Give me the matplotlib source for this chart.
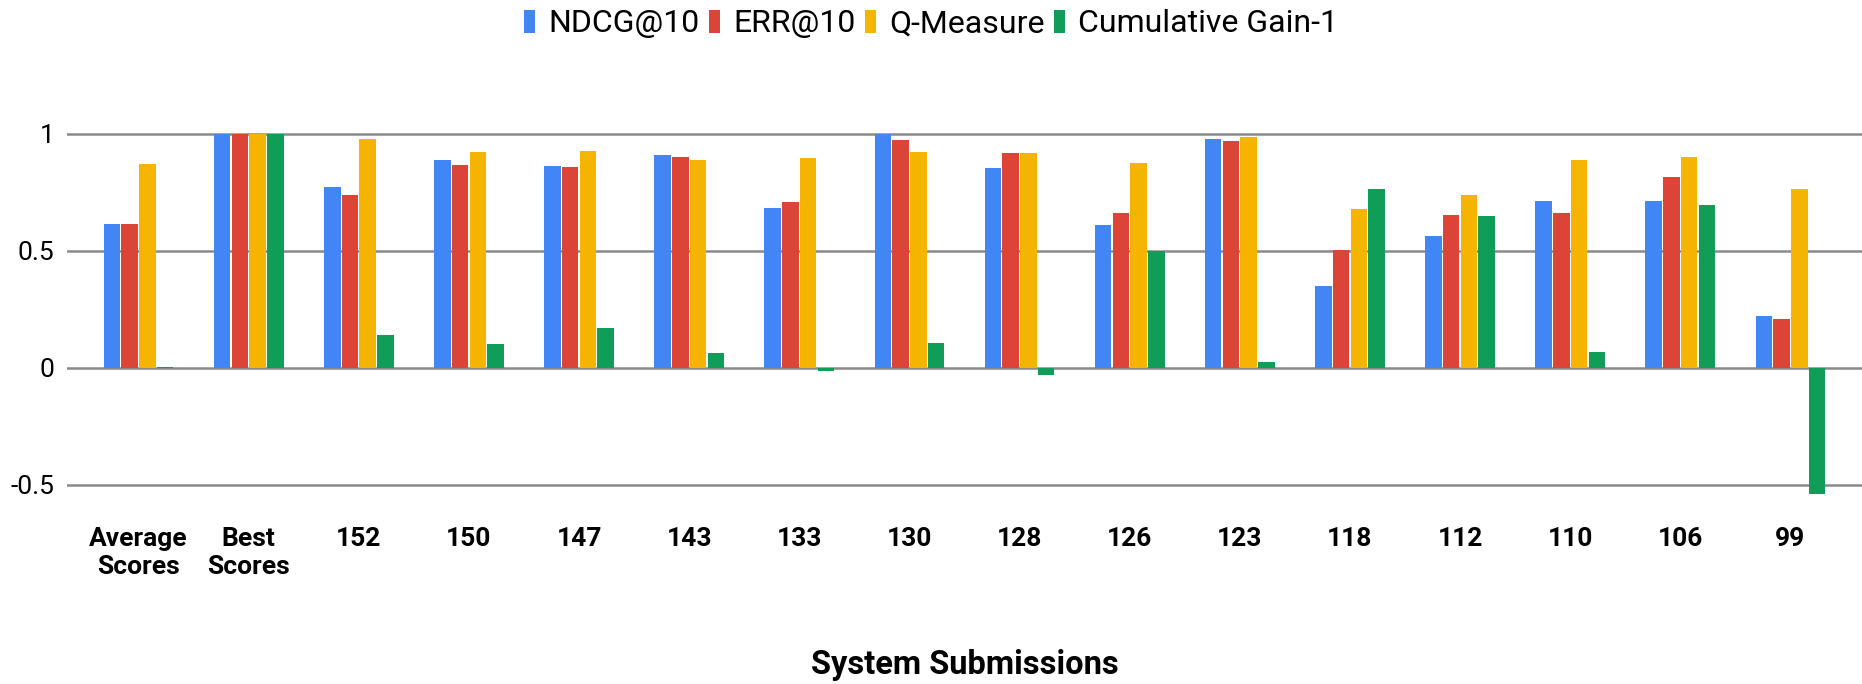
import matplotlib
matplotlib.use('Agg')
import matplotlib.pyplot as plt
import numpy as np

plt.rcParams['font.family'] = ['Roboto', 'DejaVu Sans']

categories = ['Average\nScores', 'Best\nScores', '152', '150', '147', '143', '133', '130',
              '128', '126', '123', '118', '112', '110', '106', '99']

ndcg = [0.614, 1.0, 0.774, 0.888, 0.861, 0.908, 0.683, 0.998, 0.855, 0.612, 0.978,
        0.349, 0.565, 0.715, 0.715, 0.220]
err = [0.614, 1.0, 0.738, 0.867, 0.857, 0.902, 0.710, 0.975, 0.917, 0.660, 0.970,
       0.504, 0.655, 0.661, 0.818, 0.210]
qmeasure = [0.871, 1.0, 0.978, 0.925, 0.929, 0.888, 0.898, 0.925, 0.917, 0.877, 0.988,
            0.678, 0.737, 0.887, 0.902, 0.764]
cum_gain = [0.003, 1.0, 0.140, 0.103, 0.171, 0.063, -0.013, 0.107, -0.030, 0.500, 0.026,
            0.764, 0.651, 0.069, 0.698, -0.541]

series = [('NDCG@10', ndcg, '#4285F4'),
          ('ERR@10', err, '#DB4437'),
          ('Q-Measure', qmeasure, '#F4B400'),
          ('Cumulative Gain-1', cum_gain, '#0F9D58')]

fig = plt.figure(figsize=(18.62, 6.84), dpi=100)
ax = fig.add_axes([0.036, 0.2575, 0.964, 0.5637])

x = np.arange(len(categories))
step = 0.161
width = 0.15
for i, (name, vals, color) in enumerate(series):
    ax.bar(x + (i - 1.5) * step, vals, width=width, color=color, label=name, zorder=3)

ax.set_xlim(-0.65, len(categories) - 0.35)
ax.set_ylim(-0.6, 1.05)
ax.set_yticks([-0.5, 0, 0.5, 1])
ax.set_yticklabels(['-0.5', '0', '0.5', '1'], fontsize=19)
ax.set_xticks(x)
ax.set_xticklabels(categories, fontsize=19, fontweight='bold')
ax.tick_params(axis='both', length=0)
ax.tick_params(axis='x', pad=14)
ax.tick_params(axis='y', pad=9)
ax.grid(axis='y', color='#8a8a8a', linewidth=1.8, zorder=1)
for s in ax.spines.values():
    s.set_visible(False)

ax.set_xlabel('System Submissions', fontsize=23.5, fontweight='bold', labelpad=50)

fig.legend(loc='center', bbox_to_anchor=(0.5, 0.965), ncol=4, frameon=False,
           fontsize=23, handlelength=0.35, handleheight=0.75,
           handletextpad=0.4, columnspacing=0.3)

fig.savefig('out.png', dpi=100)
